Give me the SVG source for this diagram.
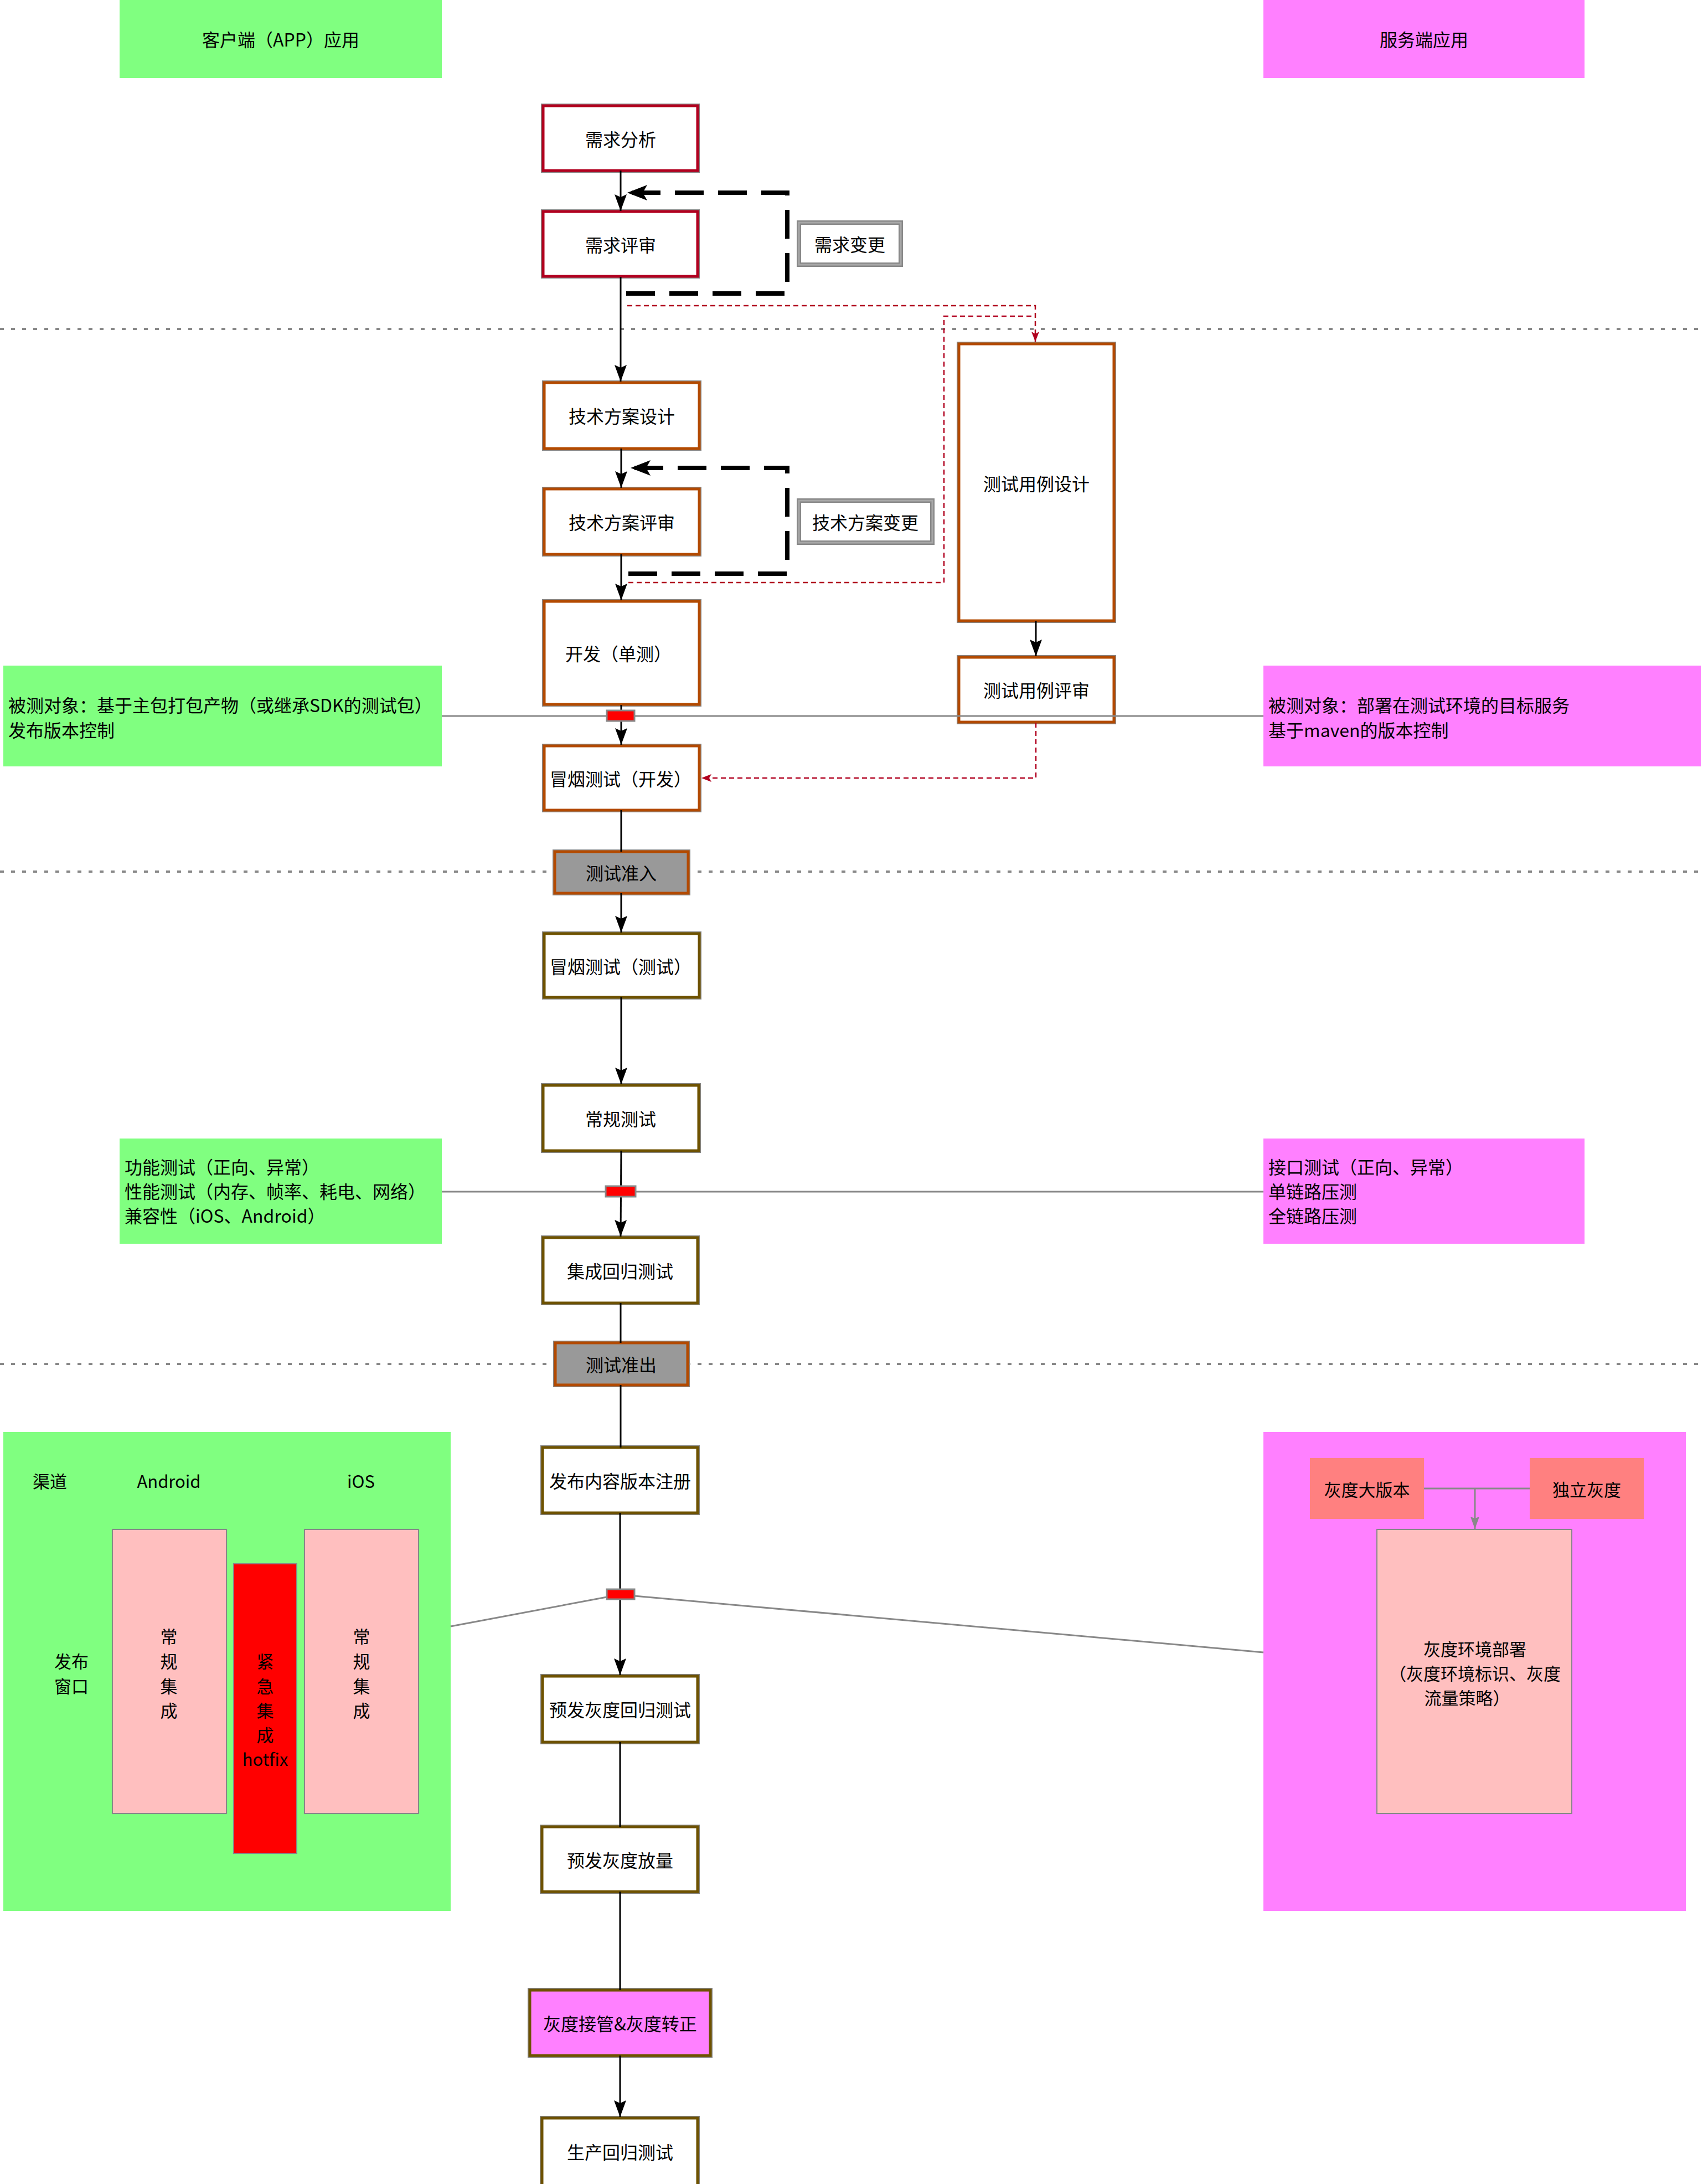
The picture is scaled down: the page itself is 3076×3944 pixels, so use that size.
<svg xmlns="http://www.w3.org/2000/svg" width="3076" height="3944" viewBox="0 0 3076 3944">
  <defs>
    <style>
      text { font-family: "Noto Sans CJK SC", "Liberation Sans", sans-serif; font-size: 32px; fill: #000; }
      .c { text-anchor: middle; dominant-baseline: central; }
      .l { text-anchor: start; dominant-baseline: central; }
      .rel { font-size: 31px; }
      .edge { stroke: #888; stroke-width: 8; }
      .req { fill: #fff; stroke: #B1001F; stroke-width: 5; }
      .tech { fill: #fff; stroke: #B34A00; stroke-width: 5; }
      .test { fill: #fff; stroke: #6E5200; stroke-width: 5; }
      .gate { fill: #999; stroke: #B34A00; stroke-width: 5; }
      .chg-o { fill: #fff; stroke: #888; stroke-width: 8; }
      .chg-i { fill: none; stroke: #A8A8A8; stroke-width: 3; }
      .green { fill: #80FF80; }
      .pink { fill: #FF80FF; }
      .sep { stroke: #888; stroke-width: 4; stroke-dasharray: 7 13; fill: none; }
      .flow { stroke: #000; stroke-width: 3; fill: none; }
      .loop { stroke: #000; stroke-width: 8; stroke-dasharray: 52 26; fill: none; }
      .red { stroke: #B1001F; stroke-width: 2.5; stroke-dasharray: 9 6; fill: none; }
      .gline { stroke: #888; stroke-width: 3; fill: none; }
      .mark { fill: #f00; stroke: #888; stroke-width: 3; }
      .soft { fill: #FFBFBF; stroke: #888; stroke-width: 2; }
    </style>
    <marker id="arrow" markerUnits="userSpaceOnUse" markerWidth="32" markerHeight="24" refX="30" refY="11" orient="auto">
      <path d="M0,0 L30,11 L0,22 L5,11 Z" fill="#000"/>
    </marker>
    <marker id="block" markerUnits="userSpaceOnUse" markerWidth="40" markerHeight="30" refX="36" refY="14" orient="auto">
      <path d="M0,0 L36,14 L0,28 L8,14 Z" fill="#000"/>
    </marker>
    <marker id="redarrow" markerUnits="userSpaceOnUse" markerWidth="20" markerHeight="16" refX="18" refY="7" orient="auto">
      <path d="M0,0 L18,7 L0,14 L4,7 Z" fill="#B1001F"/>
    </marker>
    <marker id="grayarrow" markerUnits="userSpaceOnUse" markerWidth="24" markerHeight="18" refX="22" refY="8" orient="auto">
      <path d="M0,0 L22,8 L0,16 L3,8 Z" fill="#888"/>
    </marker>
  </defs>

  <rect width="3076" height="3944" fill="#fff"/>

  <!-- phase separators -->
  <g id="separators">
    <line class="sep" x1="0" y1="594" x2="3076" y2="594"/>
    <line class="sep" x1="0" y1="1574" x2="3076" y2="1574"/>
    <line class="sep" x1="0" y1="2463" x2="3076" y2="2463"/>
  </g>

  <!-- client / server lanes -->
  <g id="lane-client-header"><rect class="green" x="216" y="0" width="582" height="141"/><text class="c" x="507" y="70">客户端（APP）应用</text></g>
  <g id="lane-server-header"><rect class="pink" x="2282" y="0" width="580" height="141"/><text class="c" x="2572" y="70">服务端应用</text></g>

  <g id="client-target">
    <rect class="green" x="6" y="1202" width="792" height="182"/>
    <text class="l" x="15" y="1272">被测对象：基于主包打包产物（或继承SDK的测试包）</text>
    <text class="l" x="15" y="1317">发布版本控制</text>
  </g>
  <g id="server-target">
    <rect class="pink" x="2282" y="1202" width="790" height="182"/>
    <text class="l" x="2291" y="1272">被测对象：部署在测试环境的目标服务</text>
    <text class="l" x="2291" y="1317">基于maven的版本控制</text>
  </g>

  <g id="client-tests">
    <rect class="green" x="216" y="2056" width="582" height="190"/>
    <text class="l" x="225" y="2106">功能测试（正向、异常）</text>
    <text class="l" x="225" y="2150">性能测试（内存、帧率、耗电、网络）</text>
    <text class="l" x="225" y="2194">兼容性（iOS、Android）</text>
  </g>
  <g id="server-tests">
    <rect class="pink" x="2282" y="2056" width="580" height="190"/>
    <text class="l" x="2291" y="2106">接口测试（正向、异常）</text>
    <text class="l" x="2291" y="2150">单链路压测</text>
    <text class="l" x="2291" y="2194">全链路压测</text>
  </g>

  <!-- client release window -->
  <g id="client-release">
    <rect class="green" x="6" y="2586" width="808" height="865"/>
    <text class="c rel" x="90" y="2673">渠道</text>
    <text class="c rel" x="305" y="2673">Android</text>
    <text class="c rel" x="652" y="2673">iOS</text>
    <text class="c rel" x="129" y="2998">发布</text>
    <text class="c rel" x="129" y="3043">窗口</text>
    <rect class="soft" x="203" y="2762" width="206" height="513"/>
    <text class="c rel" x="305" y="2953">常</text>
    <text class="c rel" x="305" y="2998">规</text>
    <text class="c rel" x="305" y="3043">集</text>
    <text class="c rel" x="305" y="3087">成</text>
    <rect x="422" y="2824" width="114" height="523" fill="#f00" stroke="#888" stroke-width="2"/>
    <text class="c rel" x="479" y="2998">紧</text>
    <text class="c rel" x="479" y="3043">急</text>
    <text class="c rel" x="479" y="3087">集</text>
    <text class="c rel" x="479" y="3131">成</text>
    <text class="c rel" x="479" y="3175">hotfix</text>
    <rect class="soft" x="550" y="2762" width="206" height="513"/>
    <text class="c rel" x="653" y="2953">常</text>
    <text class="c rel" x="653" y="2998">规</text>
    <text class="c rel" x="653" y="3043">集</text>
    <text class="c rel" x="653" y="3087">成</text>
  </g>

  <!-- server gray release -->
  <g id="server-release">
    <rect class="pink" x="2282" y="2586" width="763" height="865"/>
    <rect x="2366" y="2633" width="206" height="110" fill="#FF8080"/>
    <text class="c rel" x="2469" y="2688">灰度大版本</text>
    <rect x="2763" y="2633" width="206" height="110" fill="#FF8080"/>
    <text class="c rel" x="2866" y="2688">独立灰度</text>
    <path class="gline" d="M2572,2688 H2763 M2664,2688 V2761" marker-end="url(#grayarrow)"/>
    <rect class="soft" x="2487" y="2762" width="352" height="513"/>
    <text class="c rel" x="2664" y="2976">灰度环境部署</text>
    <text class="c rel" x="2664" y="3020">（灰度环境标识、灰度</text>
    <text class="c rel" x="2650" y="3064">流量策略）</text>
  </g>

  <!-- process nodes -->
  <g id="n-req-analysis"><rect class="edge" x="981" y="191" width="279" height="117"/><rect class="req" x="981" y="191" width="279" height="117"/><text class="c" x="1121" y="250">需求分析</text></g>
  <g id="n-req-review"><rect class="edge" x="981" y="382" width="279" height="117"/><rect class="req" x="981" y="382" width="279" height="117"/><text class="c" x="1121" y="441">需求评审</text></g>
  <g id="n-req-change"><rect class="chg-o" x="1443" y="402" width="184" height="76"/><rect class="chg-i" x="1443" y="402" width="184" height="76"/><text class="c" x="1535" y="440">需求变更</text></g>
  <g id="n-tech-design"><rect class="edge" x="983" y="691" width="280" height="119"/><rect class="tech" x="983" y="691" width="280" height="119"/><text class="c" x="1123" y="750">技术方案设计</text></g>
  <g id="n-tech-review"><rect class="edge" x="983" y="883" width="280" height="118"/><rect class="tech" x="983" y="883" width="280" height="118"/><text class="c" x="1123" y="942">技术方案评审</text></g>
  <g id="n-tech-change"><rect class="chg-o" x="1443" y="904" width="241" height="76"/><rect class="chg-i" x="1443" y="904" width="241" height="76"/><text class="c" x="1563" y="942">技术方案变更</text></g>
  <g id="n-case-design"><rect class="edge" x="1732" y="621" width="280" height="500"/><rect class="tech" x="1732" y="621" width="280" height="500"/><text class="c" x="1872" y="872">测试用例设计</text></g>
  <g id="n-case-review"><rect class="edge" x="1732" y="1187" width="280" height="117"/><rect class="tech" x="1732" y="1187" width="280" height="117"/><text class="c" x="1872" y="1245">测试用例评审</text></g>
  <g id="n-dev"><rect class="edge" x="983" y="1086" width="280" height="186"/><rect class="tech" x="983" y="1086" width="280" height="186"/><text class="c" x="1117" y="1179">开发（单测）</text></g>
  <g id="n-smoke-dev"><rect class="edge" x="983" y="1347" width="280" height="116"/><rect class="tech" x="983" y="1347" width="280" height="116"/><text class="c" x="1121" y="1405">冒烟测试（开发）</text></g>
  <g id="n-test-entry"><rect class="edge" x="1002" y="1538" width="241" height="75"/><rect class="gate" x="1002" y="1538" width="241" height="75"/><text class="c" x="1122" y="1575">测试准入</text></g>
  <g id="n-smoke-test"><rect class="edge" x="983" y="1686" width="280" height="115"/><rect class="test" x="983" y="1686" width="280" height="115"/><text class="c" x="1121" y="1744">冒烟测试（测试）</text></g>
  <g id="n-regular-test"><rect class="edge" x="981" y="1960" width="281" height="118"/><rect class="test" x="981" y="1960" width="281" height="118"/><text class="c" x="1121" y="2019">常规测试</text></g>
  <g id="n-integration"><rect class="edge" x="981" y="2235" width="279" height="118"/><rect class="test" x="981" y="2235" width="279" height="118"/><text class="c" x="1120" y="2294">集成回归测试</text></g>
  <g id="n-test-exit"><rect class="edge" x="1003" y="2425" width="239" height="76"/><rect class="gate" x="1003" y="2425" width="239" height="76"/><text class="c" x="1122" y="2463">测试准出</text></g>
  <g id="n-release-reg"><rect class="edge" x="980" y="2614" width="280" height="118"/><rect class="test" x="980" y="2614" width="280" height="118"/><text class="c" x="1120" y="2673">发布内容版本注册</text></g>
  <g id="n-pre-gray-reg"><rect class="edge" x="980" y="3027" width="280" height="119"/><rect class="test" x="980" y="3027" width="280" height="119"/><text class="c" x="1120" y="3086">预发灰度回归测试</text></g>
  <g id="n-pre-gray-volume"><rect class="edge" x="979" y="3299" width="281" height="117"/><rect class="test" x="979" y="3299" width="281" height="117"/><text class="c" x="1120" y="3358">预发灰度放量</text></g>
  <g id="n-gray-takeover"><rect class="edge" x="957" y="3594" width="326" height="118"/><rect class="test" x="957" y="3594" width="326" height="118" style="fill:#FF80FF"/><text class="c" x="1120" y="3653">灰度接管&amp;灰度转正</text></g>
  <g id="n-prod-reg"><rect class="edge" x="979" y="3825" width="281" height="122"/><rect class="test" x="979" y="3825" width="281" height="122"/><text class="c" x="1120" y="3885">生产回归测试</text></g>

  <!-- connectors -->
  <g id="connectors">
    <line class="flow" x1="1121" y1="308" x2="1121" y2="381" marker-end="url(#arrow)"/>
    <line class="flow" x1="1121" y1="500" x2="1121" y2="689" marker-end="url(#arrow)"/>
    <line class="flow" x1="1122" y1="810" x2="1122" y2="881" marker-end="url(#arrow)"/>
    <line class="flow" x1="1122" y1="1001" x2="1122" y2="1084" marker-end="url(#arrow)"/>
    <line class="flow" x1="1122" y1="1273" x2="1122" y2="1345" marker-end="url(#arrow)"/>
    <line class="flow" x1="1122" y1="1463" x2="1122" y2="1538"/>
    <line class="flow" x1="1122" y1="1613" x2="1122" y2="1684" marker-end="url(#arrow)"/>
    <line class="flow" x1="1122" y1="1801" x2="1122" y2="1958" marker-end="url(#arrow)"/>
    <line class="flow" x1="1122" y1="2078" x2="1121" y2="2233" marker-end="url(#arrow)"/>
    <line class="flow" x1="1121" y1="2353" x2="1121" y2="2425"/>
    <line class="flow" x1="1121" y1="2501" x2="1121" y2="2614"/>
    <line class="flow" x1="1120" y1="2732" x2="1120" y2="3025" marker-end="url(#arrow)"/>
    <line class="flow" x1="1120" y1="3146" x2="1120" y2="3299"/>
    <line class="flow" x1="1120" y1="3416" x2="1120" y2="3594"/>
    <line class="flow" x1="1120" y1="3712" x2="1120" y2="3823" marker-end="url(#arrow)"/>
    <line class="flow" x1="1871" y1="1121" x2="1871" y2="1185" marker-end="url(#arrow)"/>

    <path class="loop" d="M1131,530 H1422 V348 H1133" marker-end="url(#block)"/>
    <path class="loop" d="M1135,1036 H1422 V845 H1139" marker-end="url(#block)"/>

    <path class="red" d="M1133,552 H1870 V617" marker-end="url(#redarrow)"/>
    <path class="red" d="M1135,1052 H1705 V571 H1870"/>
    <path class="red" d="M1871,1305 V1405 H1267" marker-end="url(#redarrow)"/>

    <line class="gline" x1="798" y1="1293" x2="2282" y2="1293"/>
    <line class="gline" x1="798" y1="2152" x2="2282" y2="2152"/>
    <path class="gline" d="M814,2937 L1096,2884 M1146,2882 L2282,2984"/>

    <rect class="mark" x="1096" y="1283" width="50" height="19"/>
    <rect class="mark" x="1094" y="2142" width="54" height="19"/>
    <rect class="mark" x="1096" y="2870" width="50" height="18"/>
  </g>
</svg>
